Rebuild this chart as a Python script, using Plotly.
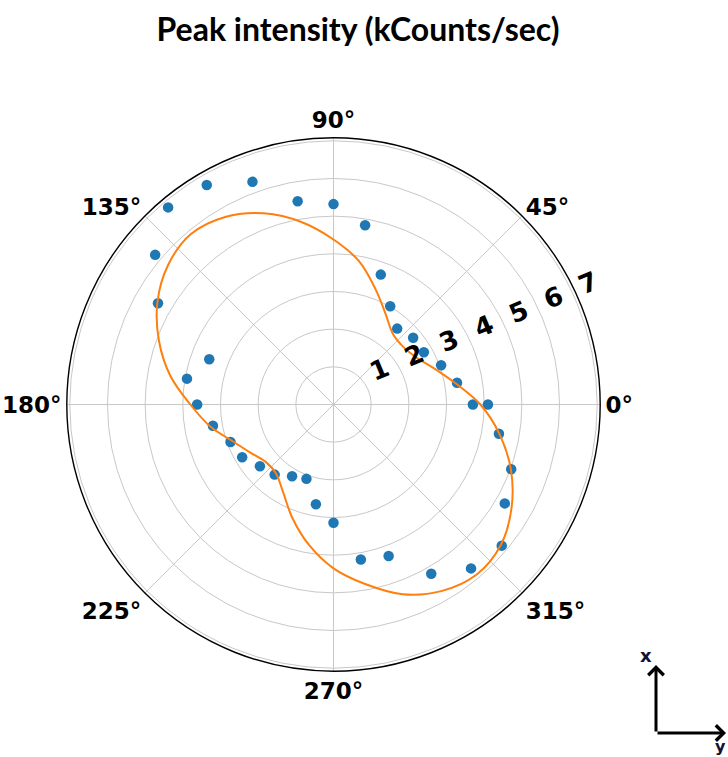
import plotly.graph_objects as go

# ---- data ----
meas_angles = list(range(0, 361, 10))
meas_intensity = [3.70, 3.33, 3.04, 2.77, 2.76, 2.63, 3.01, 3.67, 4.83, 5.32,
                  5.48, 6.29, 6.73, 6.83, 6.18, 5.38, 3.51, 3.95, 3.62, 3.25,
                  2.91, 2.80, 2.55, 2.43, 2.20, 2.10, 2.69, 3.14, 4.18, 4.28,
                  5.19, 5.68, 5.83, 5.25, 5.02, 4.46, 4.10]

fit_angles = list(range(0, 361, 10))
fit_intensity = [3.90, 3.28, 2.83, 2.52, 2.40, 2.45, 2.77, 3.26, 3.87, 4.38,
                 4.92, 5.40, 5.75, 5.90, 5.74, 5.40, 4.93, 4.40, 3.80, 3.33,
                 2.85, 2.55, 2.36, 2.38, 2.68, 3.20, 3.78, 4.35, 4.84, 5.36,
                 5.72, 5.90, 5.80, 5.46, 5.01, 4.47, 3.90]

angle_ticks = [0, 45, 90, 135, 180, 225, 270, 315]
angle_labels = [f"{a}°" for a in angle_ticks]
radial_ticks = [1, 2, 3, 4, 5, 6, 7]
radial_labels = ["\u00a0" * 4 + str(v) for v in radial_ticks]
radial_max = 7.08

title_text = "Peak intensity (kCounts/sec)"

W, H = 728, 757
ANG_FONT = dict(family="DejaVu Sans", size=23, color="black", weight="bold")
RAD_FONT = dict(family="DejaVu Sans", size=26, color="black", weight="bold")

fig = go.Figure()
fig.add_trace(go.Scatterpolar(
    r=meas_intensity, theta=meas_angles, mode="markers",
    marker=dict(color="#1f77b4", size=10.5, line=dict(width=0)),
    showlegend=False,
))
fig.add_trace(go.Scatterpolar(
    r=fit_intensity, theta=fit_angles, mode="lines",
    line=dict(color="#ff7f0e", width=2, shape="spline", smoothing=1),
    showlegend=False,
))

cx, cy, R = 333.5, 404.5, 266.7
fig.update_layout(
    width=W, height=H,
    margin=dict(l=0, r=0, t=0, b=0),
    paper_bgcolor="white",
    title=dict(text=title_text, x=358 / W, xanchor="center",
               y=1 - 30 / H, yanchor="middle",
               font=dict(family="Lato", size=32, color="black", weight="bold")),
    polar=dict(
        domain=dict(x=[(cx - R) / W, (cx + R) / W],
                    y=[1 - (cy + R) / H, 1 - (cy - R) / H]),
        bgcolor="white",
        angularaxis=dict(
            rotation=0, direction="counterclockwise",
            tickmode="array", tickvals=angle_ticks, ticktext=angle_labels,
            ticks="", tickfont=ANG_FONT,
            showline=True, linecolor="black", linewidth=1.4,
            showgrid=True, gridcolor="#c8c8c8", gridwidth=1.1,
        ),
        radialaxis=dict(
            range=[0, radial_max], angle=22.5,
            tickmode="array", tickvals=radial_ticks, ticktext=radial_labels,
            ticks="", tickfont=RAD_FONT, tickangle=0,
            showline=False, showgrid=True, gridcolor="#c8c8c8", gridwidth=1.1,
            side="counterclockwise",
        ),
    ),
)

# axis-orientation inset (bottom right)
fig.add_annotation(x=656 / W, y=1 - 665 / H, xref="paper", yref="paper",
                   ax=0, ay=68, showarrow=True, arrowhead=4, arrowsize=1,
                   arrowwidth=3, arrowcolor="black", text="")
fig.add_annotation(x=726 / W, y=1 - 733 / H, xref="paper", yref="paper",
                   ax=-70, ay=0, showarrow=True, arrowhead=4, arrowsize=1,
                   arrowwidth=3, arrowcolor="black", text="")
fig.add_annotation(x=646 / W, y=1 - 655 / H, xref="paper", yref="paper",
                   xanchor="center", yanchor="middle",
                   text="x", showarrow=False,
                   font=dict(family="DejaVu Sans", size=18, color="#111133", weight="bold"))
fig.add_annotation(x=1.0, y=1 - 746 / H, xref="paper", yref="paper",
                   xanchor="right", yanchor="middle",
                   text="y", showarrow=False,
                   font=dict(family="DejaVu Sans", size=16, color="#111133", weight="bold"))

fig.write_html("out.html")
